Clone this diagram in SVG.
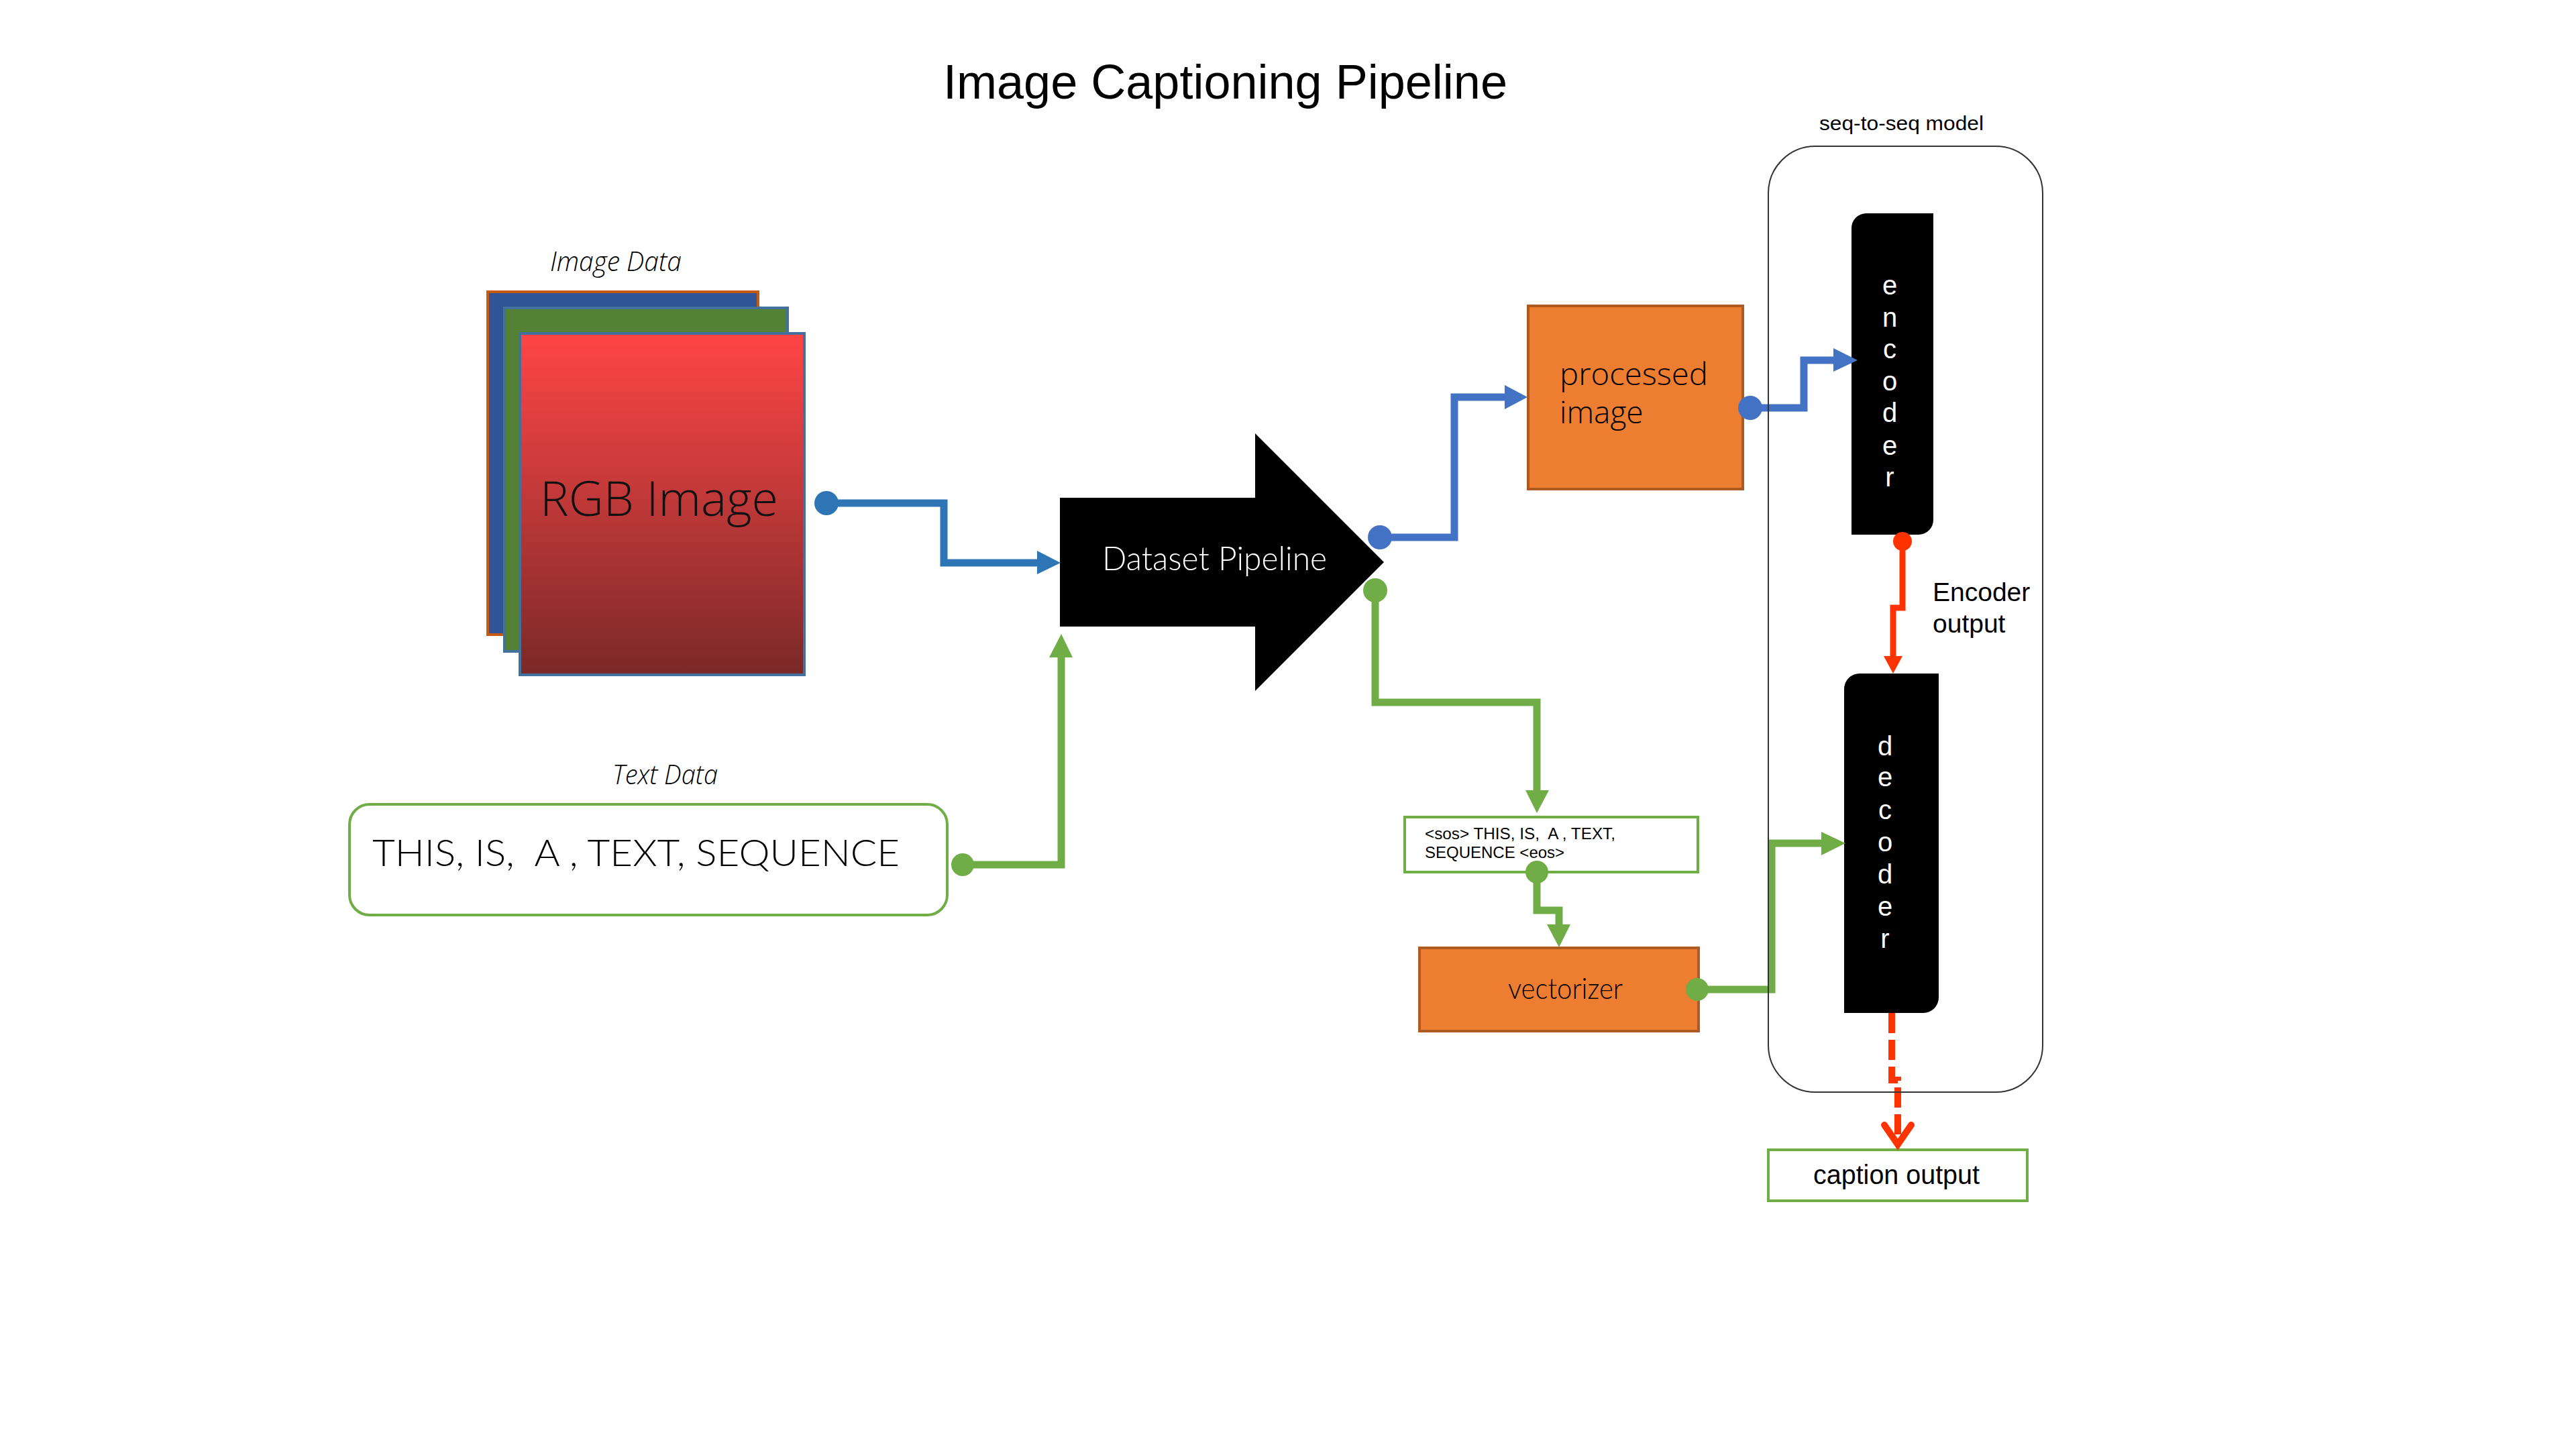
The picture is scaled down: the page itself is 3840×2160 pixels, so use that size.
<svg xmlns="http://www.w3.org/2000/svg" width="3840" height="2160" viewBox="0 0 3840 2160">
<defs>
<linearGradient id="redGrad" x1="0" y1="0" x2="0" y2="1">
<stop offset="0" stop-color="#FF4545"/>
<stop offset="0.5" stop-color="#BE3838"/>
<stop offset="1" stop-color="#7B2828"/>
</linearGradient>
<style>
.sans{font-family:"Liberation Sans",Arial,sans-serif;}
.light{font-family:"Open Sans","Liberation Sans",sans-serif;font-weight:300;}
.geo{font-family:"Lato","Liberation Sans",sans-serif;font-weight:300;}
.ital{font-family:"Open Sans","Liberation Sans",sans-serif;font-style:italic;font-weight:300;}
.pre{white-space:pre;}
.orange{fill:#ED7D31;stroke:#AE5A21;stroke-width:4;}
.gbox{fill:#FFFFFF;stroke:#70AD47;stroke-width:4;}
.blk{fill:#000000;}
.wl{fill:#FFFFFF;font-family:"Liberation Sans",Arial,sans-serif;font-size:40px;text-anchor:middle;}
.cb1{fill:none;stroke:#2E75B6;stroke-width:11;}
.cb2{fill:none;stroke:#4472C4;stroke-width:11;}
.cg{fill:none;stroke:#70AD47;stroke-width:11;}
.cr{fill:none;stroke:#FF3300;stroke-width:9;}
</style>
</defs>
<rect x="0" y="0" width="3840" height="2160" fill="#FFFFFF"/>

<text id="title" class="sans" x="1406" y="147" font-size="72" textLength="841" lengthAdjust="spacingAndGlyphs">Image Captioning Pipeline</text>

<g id="image-data">
<text class="ital" x="820" y="404" font-size="40" textLength="196" lengthAdjust="spacingAndGlyphs">Image Data</text>
<rect x="727" y="435" width="403" height="511" fill="#2F5597" stroke="#C55A11" stroke-width="4"/>
<rect x="752" y="459" width="422" height="512" fill="#548235" stroke="#41719C" stroke-width="4"/>
<rect x="775" y="497" width="424" height="509" fill="url(#redGrad)" stroke="#41719C" stroke-width="4"/>
<text class="light" x="805" y="769" font-size="72" textLength="355" lengthAdjust="spacingAndGlyphs" fill="#111111">RGB Image</text>
</g>

<g id="text-data">
<text class="ital" x="913" y="1169" font-size="40" textLength="157" lengthAdjust="spacingAndGlyphs">Text Data</text>
<rect class="gbox" x="521" y="1199" width="891" height="165" rx="30" ry="30"/>
<text class="geo pre" x="555" y="1291" font-size="56" textLength="786" lengthAdjust="spacingAndGlyphs">THIS, IS,  A , TEXT, SEQUENCE</text>
</g>

<g id="dataset-pipeline">
<polygon class="blk" points="1580,742 1871,742 1871,646 2063,838 1871,1030 1871,934 1580,934"/>
<text class="geo" x="1643" y="850" font-size="50" fill="#FFFFFF" textLength="335" lengthAdjust="spacingAndGlyphs">Dataset Pipeline</text>
</g>

<g id="processed-image">
<rect class="orange" x="2278" y="456" width="320" height="273"/>
<text class="light" x="2325" y="574" font-size="46" textLength="221" lengthAdjust="spacingAndGlyphs">processed</text>
<text class="light" x="2325" y="631" font-size="46">image</text>
</g>

<g id="sequence-text">
<rect class="gbox" x="2094" y="1218" width="437" height="82"/>
<text class="sans pre" x="2124" y="1251" font-size="24" textLength="284" lengthAdjust="spacingAndGlyphs">&lt;sos&gt; THIS, IS,  A , TEXT,</text>
<text class="sans" x="2124" y="1279" font-size="24">SEQUENCE &lt;eos&gt;</text>
</g>

<g id="vectorizer">
<rect class="orange" x="2116" y="1413" width="416" height="124"/>
<text class="geo" x="2248" y="1489" font-size="44" textLength="171" lengthAdjust="spacingAndGlyphs">vectorizer</text>
</g>

<g id="encoder">
<path class="blk" d="M2782 318 H2882 V775 A22 22 0 0 1 2860 797 H2760 V340 A22 22 0 0 1 2782 318 Z"/>
<text class="wl" x="2817" y="439">e</text>
<text class="wl" x="2817" y="487">n</text>
<text class="wl" x="2817" y="534">c</text>
<text class="wl" x="2817" y="582">o</text>
<text class="wl" x="2817" y="629">d</text>
<text class="wl" x="2817" y="678">e</text>
<text class="wl" x="2817" y="725">r</text>
</g>

<g id="decoder">
<path class="blk" d="M2772 1004 H2890 V1487 A23 23 0 0 1 2867 1510 H2749 V1027 A23 23 0 0 1 2772 1004 Z"/>
<text class="wl" x="2810" y="1126">d</text>
<text class="wl" x="2810" y="1172">e</text>
<text class="wl" x="2810" y="1221">c</text>
<text class="wl" x="2810" y="1269">o</text>
<text class="wl" x="2810" y="1317">d</text>
<text class="wl" x="2810" y="1365">e</text>
<text class="wl" x="2810" y="1413">r</text>
</g>

<g id="encoder-output-label">
<text class="sans" x="2881" y="896" font-size="39">Encoder</text>
<text class="sans" x="2881" y="943" font-size="39">output</text>
</g>

<g id="caption-output">
<rect class="gbox" x="2636" y="1714" width="386" height="76" stroke-width="5"/>
<text class="sans" x="2703" y="1765" font-size="40" textLength="248" lengthAdjust="spacingAndGlyphs">caption output</text>
</g>

<g id="connectors">
<circle cx="1232" cy="750" r="18" fill="#2E75B6"/>
<path class="cb1" d="M1232 750 H1407 V839 H1548"/>
<polygon fill="#2E75B6" points="1546,821 1581,839 1546,856"/>
<circle cx="1435" cy="1289" r="17" fill="#70AD47"/>
<path class="cg" d="M1435 1289 H1582 V978"/>
<polygon fill="#70AD47" points="1564,980 1599,980 1582,945"/>
<circle cx="2057" cy="801" r="18" fill="#4472C4"/>
<path class="cb2" d="M2057 801 H2168 V592 H2245"/>
<polygon fill="#4472C4" points="2243,574 2277,592 2243,610"/>
<circle cx="2050" cy="880" r="18" fill="#70AD47"/>
<path class="cg" d="M2050 880 V1047 H2291 V1180"/>
<polygon fill="#70AD47" points="2274,1178 2309,1178 2291,1212"/>
<circle cx="2291" cy="1300" r="17" fill="#70AD47"/>
<path class="cg" d="M2291 1300 V1357 H2324 V1380"/>
<polygon fill="#70AD47" points="2306,1378 2341,1378 2324,1412"/>
<circle cx="2609" cy="608" r="18" fill="#4472C4"/>
<path class="cb2" d="M2609 608 H2689 V537 H2735"/>
<polygon fill="#4472C4" points="2733,519 2769,537 2733,554"/>
<circle cx="2530" cy="1475" r="17" fill="#70AD47"/>
<path class="cg" d="M2530 1475 H2641 V1257 H2717"/>
<polygon fill="#70AD47" points="2715,1240 2751,1257 2715,1275"/>
<circle cx="2836" cy="807" r="14" fill="#FF3300"/>
<path class="cr" d="M2836 807 V906 H2822 V980"/>
<polygon fill="#FF3300" points="2808,978 2836,978 2822,1004"/>
<path fill="none" stroke="#FF3300" stroke-width="10" stroke-dasharray="30 10" d="M2820 1510 V1610 H2829 V1702"/>
<polyline fill="none" stroke="#FF3300" stroke-width="10" stroke-linecap="round" stroke-linejoin="miter" points="2809,1677 2829,1706 2849,1677"/>
</g>

<g id="seq-to-seq-model">
<text class="sans" x="2712" y="194" font-size="30" textLength="245" lengthAdjust="spacingAndGlyphs">seq-to-seq model</text>
<rect x="2636" y="218" width="409" height="1410" rx="70" ry="70" fill="none" stroke="#333333" stroke-width="2"/>
</g>
</svg>
